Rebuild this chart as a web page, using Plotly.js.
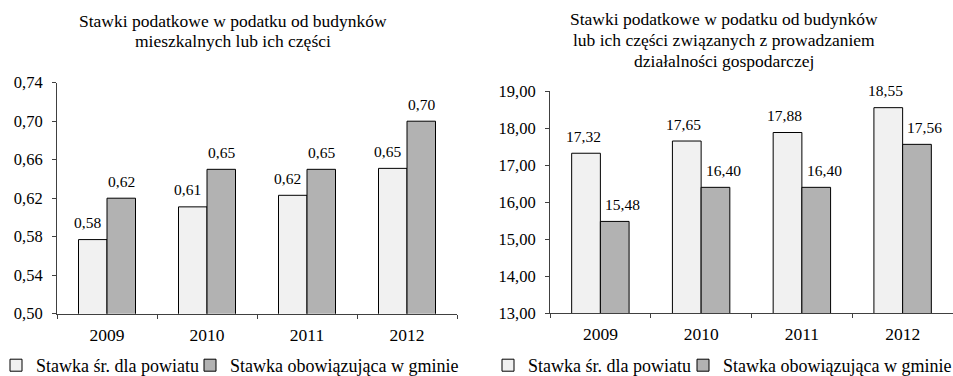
<!DOCTYPE html>
<html>
<head>
<meta charset="utf-8">
<script src="https://cdn.plot.ly/plotly-3.0.1.min.js"></script>
<style>html,body{margin:0;padding:0;background:#fff;}#chart{width:953px;height:376px;}</style>
</head>
<body>
<div id="chart"></div>
<script>
const categories = ['2009', '2010', '2011', '2012'];
const seriesNames = ['Stawka śr. dla powiatu', 'Stawka obowiązująca w gminie'];
const leftPowiat = [0.577, 0.611, 0.623, 0.651];
const leftGmina = [0.62, 0.65, 0.65, 0.70];
const rightPowiat = [17.32, 17.65, 17.88, 18.55];
const rightGmina = [15.48, 16.40, 16.40, 17.56];
const leftTitleLines = ['Stawki podatkowe w podatku od budynków', 'mieszkalnych lub ich części'];
const rightTitleLines = ['Stawki podatkowe w podatku od budynków', 'lub ich części związanych z prowadzaniem', 'działalności gospodarczej'];

const FONT = 'Liberation Serif, Times New Roman, serif';
const LIGHT = '#f1f1f1';
const DARK = '#b2b2b2';
const AXIS = '#404040';
const BARGAP = 0.43;
const W = 953, H = 376;

function bar(y, name, color, xa, ya, legend) {
  return {
    type: 'bar', x: categories, y: y, name: name,
    xaxis: xa, yaxis: ya, legend: legend,
    marker: {color: color, line: {color: '#000', width: 1}},
    hoverinfo: 'skip'
  };
}

const data = [
  bar(leftPowiat, seriesNames[0], LIGHT, 'x', 'y', 'legend'),
  bar(leftGmina, seriesNames[1], DARK, 'x', 'y', 'legend2'),
  bar(rightPowiat, seriesNames[0], LIGHT, 'x2', 'y2', 'legend3'),
  bar(rightGmina, seriesNames[1], DARK, 'x2', 'y2', 'legend4')
];

const off = (1 - BARGAP) / 4;
function labels(vals, xref, yref, side, nudge) {
  return vals.map((v, i) => ({
    x: i + side * off, y: v, xref: xref, yref: yref,
    text: v.toFixed(2).replace('.', ','),
    showarrow: false, yanchor: 'middle', xanchor: 'center',
    yshift: 17, xshift: nudge,
    font: {family: FONT, size: 15.5, color: '#000'}
  }));
}

function titleLines(lines, cx, firstY, step) {
  return lines.map((t, i) => ({
    text: t, x: cx / W, y: 1 - (firstY + i * step) / H, xref: 'paper', yref: 'paper',
    showarrow: false, xanchor: 'center', yanchor: 'middle',
    font: {family: FONT, size: 17.5, color: '#000'}
  }));
}

const annotations = [].concat(
  labels(leftPowiat, 'x', 'y', -1, -5),
  labels(leftGmina, 'x', 'y', 1, 0),
  labels(rightPowiat, 'x2', 'y2', -1, -3),
  labels(rightGmina, 'x2', 'y2', 1, 8),
  titleLines(leftTitleLines, 233, 21, 20.5),
  titleLines(rightTitleLines, 724, 19, 21)
);

function xAxis(domain, anchor) {
  return {
    domain: domain, anchor: anchor, type: 'category',
    showline: true, linecolor: AXIS, linewidth: 1,
    ticks: 'outside', tickson: 'boundaries', ticklen: 4, tickcolor: AXIS,
    ticklabelstandoff: 5,
    tickfont: {family: FONT, size: 17.5, color: '#000'},
    showgrid: false, zeroline: false, fixedrange: true
  };
}
function yAxis(domain, anchor, range, dtick) {
  return {
    domain: domain, anchor: anchor, range: range, dtick: dtick, tick0: range[0],
    tickformat: '.2f',
    showline: true, linecolor: AXIS, linewidth: 1,
    ticks: 'outside', ticklen: 4, tickcolor: AXIS,
    ticklabelstandoff: 6,
    tickfont: {family: FONT, size: 16.5, color: '#000'},
    showgrid: false, zeroline: false, fixedrange: true
  };
}

function legendAt(x, xanchor) {
  return {
    orientation: 'h', xref: 'paper', yref: 'paper', x: x, xanchor: xanchor,
    y: -8 / H, yanchor: 'bottom',
    font: {family: FONT, size: 18, color: '#000'}, bgcolor: 'rgba(0,0,0,0)',
    itemclick: false, itemdoubleclick: false
  };
}

const layout = {
  width: W, height: H,
  margin: {l: 0, r: 0, t: 0, b: 0, autoexpand: false},
  paper_bgcolor: '#fff', plot_bgcolor: '#fff',
  separators: ', ',
  barmode: 'group', bargap: BARGAP, bargroupgap: 0,
  font: {family: FONT, color: '#000'},
  xaxis: xAxis([57 / W, 457 / W], 'y'),
  yaxis: yAxis([1 - 313.7 / H, 1 - 82.7 / H], 'x', [0.5, 0.74], 0.04),
  xaxis2: xAxis([550 / W, 1], 'y2'),
  yaxis2: yAxis([1 - 313.3 / H, 1 - 91 / H], 'x2', [13, 19], 1),
  legend: legendAt(-4 / W, 'left'),
  legend2: legendAt(190 / W, 'left'),
  legend3: legendAt(488 / W, 'left'),
  legend4: legendAt(1 + 4 / W, 'right'),
  annotations: annotations,
  showlegend: true
};

Plotly.newPlot('chart', data, layout, {displayModeBar: false, staticPlot: true});
</script>
</body>
</html>
